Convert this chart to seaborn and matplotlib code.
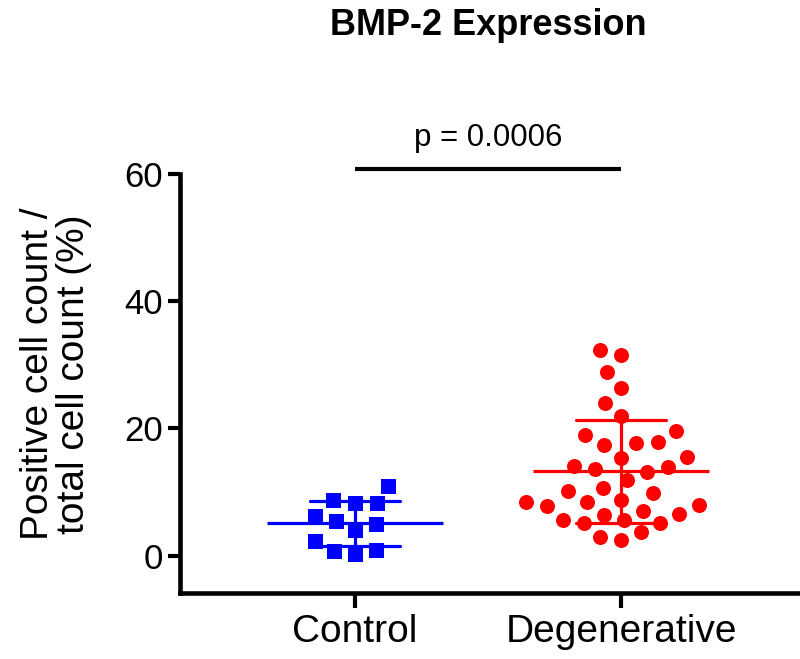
import numpy as np
import pandas as pd
import matplotlib
matplotlib.use("Agg")
import matplotlib.pyplot as plt
import matplotlib.transforms as mtransforms
import seaborn as sns

# ---- data ----
groups = ["Control", "Degenerative"]
control_values = [11.0, 8.3, 4.1, 0.2, 6.2, 2.3, 8.3, 5.0, 0.8, 8.7, 5.5, 0.9]
degenerative_values = [31.6, 32.4, 28.8, 26.4, 24.0, 21.9, 19.6, 19.0, 17.7, 17.4,
                       17.8, 15.4, 15.5, 13.2, 14.1, 14.0, 13.6, 11.9, 10.1, 8.8,
                       10.6, 9.9, 7.1, 7.8, 8.4, 8.0, 8.4, 5.1, 5.6, 6.4, 6.6,
                       5.2, 5.6, 3.7, 2.4, 2.9]
group_colors = ["#0000FF", "#FF0000"]
group_markers = ["s", "o"]
title_text = "BMP-2 Expression"
ylabel_text = "Positive cell count /\ntotal cell count (%)"
p_text = "p = 0.0006"
y_ticks = [0, 20, 40, 60]

df = pd.DataFrame({
    "group": ["Control"] * len(control_values) + ["Degenerative"] * len(degenerative_values),
    "value": control_values + degenerative_values,
})

sns.set_style("ticks")
plt.rcParams["font.family"] = ["Liberation Sans", "DejaVu Sans"]
for key in ["text.color", "axes.labelcolor", "xtick.color", "ytick.color"]:
    plt.rcParams[key] = "black"

fig = plt.figure(figsize=(8.0, 6.59), dpi=100)
ax = fig.add_axes([0.225, 0.1002, 0.7725, 0.6358])

# invisible wide edge spreads the swarm like the reference's loose column scatter
for g, c, m in zip(groups, group_colors, group_markers):
    sub = df[df["group"] == g]
    sns.swarmplot(data=sub, x="group", y="value", order=groups, color=c,
                  marker=m, size=10.8, linewidth=4.0, edgecolor=(0, 0, 0, 0),
                  ax=ax, zorder=2)

sns.pointplot(data=df, x="group", y="value", order=groups, hue="group",
              hue_order=groups, palette=group_colors, errorbar="sd",
              capsize=0.34, linestyle="none", marker="_", markersize=127,
              markeredgewidth=2.3, err_kws={"linewidth": 2.3},
              dodge=False, legend=False, ax=ax, zorder=3)

ax.set_xlim(-0.658, 1.665)
ax.set_ylim(-5.86, 60)
ax.set_yticks(y_ticks)
ax.set_xlabel("")
ax.set_ylabel(ylabel_text, fontsize=28, linespacing=1.0)
ax.yaxis.set_label_coords(-0.142, 0.523)

for side in ["top", "right"]:
    ax.spines[side].set_visible(False)
for side in ["left", "bottom"]:
    ax.spines[side].set_linewidth(3.3)
    ax.spines[side].set_color("black")
ax.tick_params(axis="y", labelsize=25, width=3.0, length=9, pad=3, colors="black")
ax.tick_params(axis="x", labelsize=28, width=3.0, length=11, pad=4, colors="black")

# significance bar and p-value
ax.plot([0, 1], [60.8, 60.8], color="black", linewidth=3.0, clip_on=False,
        solid_capstyle="butt")
ax.text(0.5, 64.4, p_text, ha="center", va="baseline", fontsize=22.5,
        color="black", clip_on=False)

# title centred over the data area
trans = mtransforms.blended_transform_factory(ax.transData, fig.transFigure)
ax.text(0.5, 1 - 35 / 659, title_text, transform=trans, ha="center",
        va="baseline", fontsize=26, fontweight="bold", color="black")

fig.savefig("out.png", dpi=100)
